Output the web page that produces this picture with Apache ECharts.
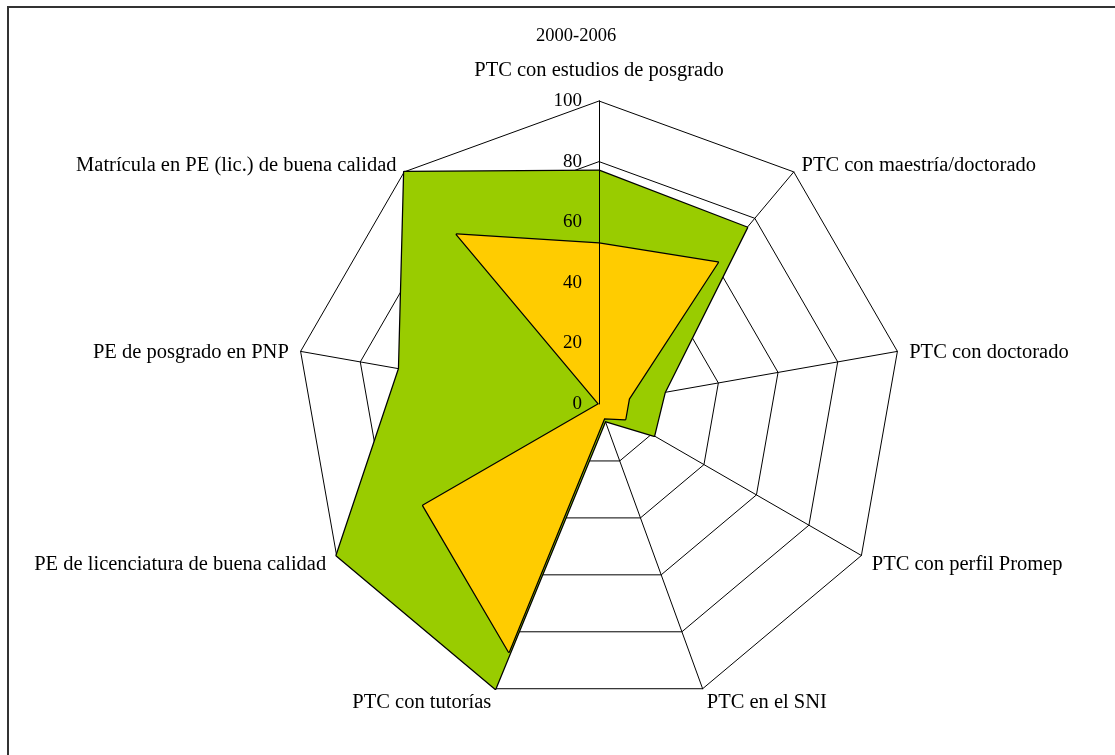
<!DOCTYPE html>
<html>
<head>
<meta charset="utf-8">
<title>2000-2006</title>
<script src="https://cdn.jsdelivr.net/npm/echarts@6/dist/echarts.min.js"></script>
<style>
  html, body { margin: 0; padding: 0; background: #fff; overflow: hidden; }
  #frame {
    position: absolute; left: 7px; top: 6px; width: 1200px; height: 800px;
    border-top: 2px solid #333; border-left: 2px solid #333;
  }
  #chart { position: absolute; left: 0; top: 0; width: 1115px; height: 755px; }
</style>
</head>
<body>
<div id="frame"></div>
<div id="chart"></div>
<script>
// indicadores en el orden del gráfico (horario, desde arriba)
const indicators = [
  'PTC con estudios de posgrado',
  'PTC con maestría/doctorado',
  'PTC con doctorado',
  'PTC con perfil Promep',
  'PTC en el SNI',
  'PTC con tutorías',
  'PE de licenciatura de buena calidad',
  'PE de posgrado en PNP',
  'Matrícula en PE (lic.) de buena calidad',
]
const verde = [77, 76, 22, 21, 6, 100, 100, 67, 100]
const amarillo = [53, 61, 10, 10, 5, 87, 67, 0, 73]
const maxValue = 100

// echarts coloca los ejes en sentido antihorario
const ccw = (arr) => [arr[0], ...arr.slice(1).reverse()]

const serif = 'Liberation Serif'
const center = [599, 404]
const radius = 303
const chart = echarts.init(document.getElementById('chart'))

const serie = (name, values, color) => ({
  type: 'radar',
  name,
  radarIndex: 0,
  symbol: 'none',
  z: 2,
  lineStyle: { color: '#000', width: 2.5, opacity: 1 },
  areaStyle: { color, opacity: 1 },
  itemStyle: { color: '#000' },
  data: [{ value: ccw(values), name }],
})

chart.setOption({
  animation: false,
  title: {
    text: '2000-2006',
    left: 531,
    top: 22,
    textStyle: { fontFamily: serif, fontSize: 18.5, fontWeight: 'normal', color: '#000' },
  },
  radar: [
    // rejilla y nombres (debajo de las áreas)
    {
      center,
      radius,
      startAngle: 90,
      shape: 'polygon',
      splitNumber: 5,
      nameGap: 12,
      z: 1,
      axisName: {
        color: '#000',
        fontFamily: serif,
        fontSize: 20.5,
        padding: [6, 0, 0, 0],
        formatter: (name) => (name === indicators[0] ? '{t|' + name + '}' : name),
        rich: {
          t: { fontFamily: serif, fontSize: 20.5, color: '#000', padding: [0, 0, 8, 0] },
        },
      },
      axisLine: { lineStyle: { color: '#000', width: 1 } },
      splitLine: { lineStyle: { color: '#000', width: 1 } },
      splitArea: { show: false },
      axisTick: { show: false },
      axisLabel: { show: false },
      indicator: ccw(indicators).map((name) => ({ name, min: 0, max: maxValue })),
    },
    // eje de valores con etiquetas (encima de las áreas)
    {
      center,
      radius,
      startAngle: 90,
      shape: 'polygon',
      splitNumber: 5,
      z: 10,
      axisName: { show: false },
      splitLine: { show: false },
      splitArea: { show: false },
      axisTick: { show: false },
      axisLine: { show: false, lineStyle: { color: '#000', width: 1 } },
      axisLabel: {
        show: false,
        color: '#000',
        fontFamily: serif,
        fontSize: 19,
        margin: 17,
      },
      indicator: ccw(indicators).map((name, i) => ({
        name,
        min: 0,
        max: maxValue,
        axisLine: { show: i === 0 },
        axisLabel: { show: i === 0 },
      })),
    },
  ],
  series: [
    serie('verde', verde, '#99CC00'),
    serie('amarillo', amarillo, '#FFCC00'),
  ],
})
</script>
</body>
</html>
